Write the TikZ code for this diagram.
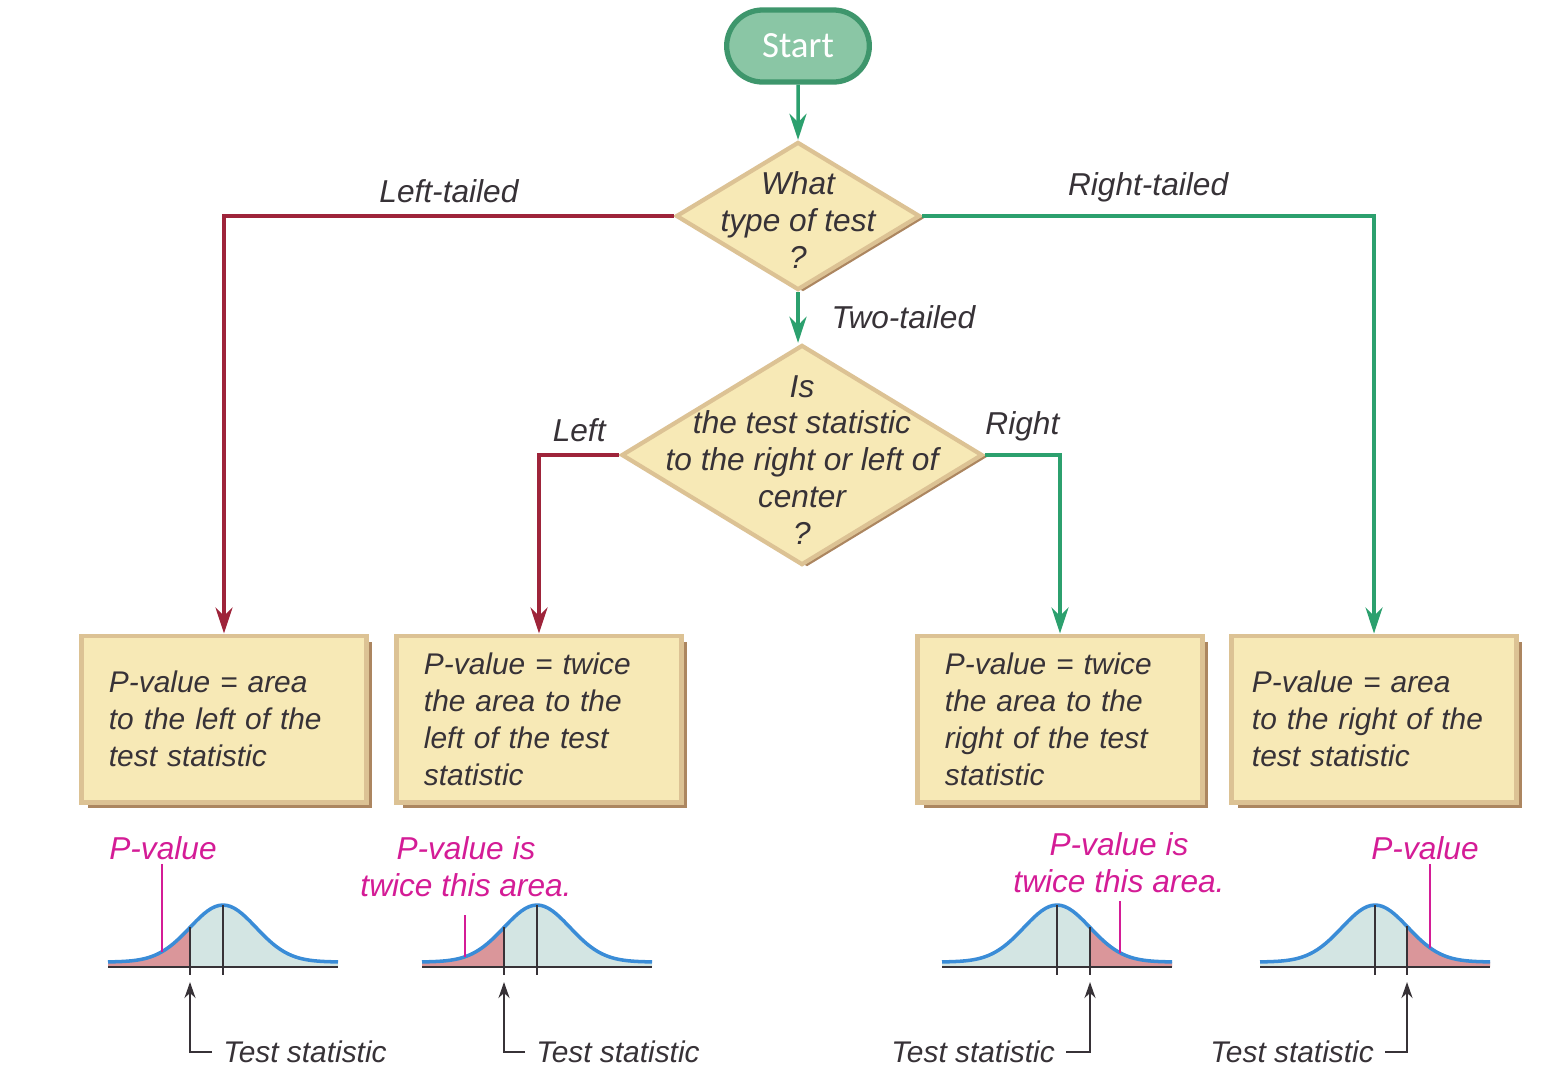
\documentclass[tikz,border=0pt]{standalone}
\usepackage{fontspec}
\setmainfont{Liberation Sans}
\newfontfamily\startfont{Carlito}
\usetikzlibrary{arrows.meta,positioning,shapes.geometric,shapes.misc,shadows}
\definecolor{flowgreen}{RGB}{44,160,110}
\definecolor{flowred}{RGB}{158,36,58}
\definecolor{panel}{RGB}{247,233,182}
\definecolor{paneledge}{RGB}{220,194,148}
\definecolor{panelshadow}{RGB}{172,134,96}
\definecolor{startfill}{RGB}{138,198,165}
\definecolor{startedge}{RGB}{62,150,108}
\definecolor{inkgray}{RGB}{55,50,55}
\definecolor{pvpink}{RGB}{212,28,150}
\definecolor{bellblue}{RGB}{58,140,215}
\definecolor{bellfill}{RGB}{211,229,227}
\definecolor{tailred}{RGB}{218,150,154}
\newcommand{\handfont}{\fontsize{9}{10.5}\selectfont\itshape}
% #1 centre, #2 test statistic, #3--#4 shaded tail (offsets from centre)
\newcommand{\bellcurve}[4]{%
  \fill[bellfill] plot[domain=-115:115,samples=61] ({#1+\x},{962-57*exp(-((\x)*(\x))/2178)})
    -- ({#1+115},967) -- ({#1-115},967) -- cycle;
  \fill[tailred] plot[domain=#3:#4,samples=31] ({#1+\x},{962-57*exp(-((\x)*(\x))/2178)})
    -- ({#1+(#4)},967) -- ({#1+(#3)},967) -- cycle;
  \draw[bellblue,line width=1pt] plot[domain=-115:115,samples=61] ({#1+\x},{962-57*exp(-((\x)*(\x))/2178)});
  \draw[inkgray,line width=0.8pt] ({#1-115},967) -- ({#1+115},967);
  \draw[inkgray,line width=0.8pt] (#1,905) -- (#1,975);
  \draw[inkgray,line width=0.8pt] ({#1+(#2)},{962-57*exp(-((#2)*(#2))/2178)}) -- ({#1+(#2)},975);
}

\begin{document}
\begin{tikzpicture}[x=0.01cm,y=-0.01cm,
  startbox/.style={rounded rectangle,fill=startfill,draw=startedge,line width=1.5pt,
    minimum width=1.66cm,minimum height=0.72cm,text=white,font=\startfont\fontsize{10.5}{12}\selectfont},
  decision/.style={diamond,fill=panel,draw=paneledge,line width=1.2pt,inner sep=0pt,
    drop shadow={shadow xshift=0.05cm,shadow yshift=-0.02cm,fill=panelshadow,opacity=1}},
  qtext/.style={align=center,font=\handfont,text=inkgray},
  result/.style={rectangle,fill=panel,draw=paneledge,line width=1.4pt,minimum width=2.84cm,
    minimum height=1.66cm,text width=2.3cm,inner xsep=0.27cm,align=left,
    font=\fontsize{8.5}{10.5}\selectfont\itshape,text=inkgray,
    drop shadow={shadow xshift=0.06cm,shadow yshift=-0.06cm,fill=panelshadow,opacity=1}},
  garr/.style={flowgreen,line width=1pt,-{Stealth[length=2.6mm,width=1.7mm]}},
  rarr/.style={flowred,line width=1pt,-{Stealth[length=2.6mm,width=1.7mm]}},
  lab/.style={font=\handfont,text=inkgray},
  pvlab/.style={font=\handfont,text=pvpink,align=center,inner sep=1pt},
  pvline/.style={pvpink,line width=0.8pt},
  tslab/.style={font=\fontsize{8.5}{10}\selectfont\itshape,text=inkgray,inner sep=3pt},
  tsarr/.style={inkgray,line width=0.7pt,-{Stealth[length=1.6mm,width=1.1mm]}}]
\useasboundingbox (0,0) rectangle (1552,1084);

% decisions
\node[startbox] (start) at (798,46) {Start};
\node[decision,minimum width=2.44cm,minimum height=1.48cm] (type) at (798,216) {};
\node[qtext] (typeq) at (798,220) {What\\type of test\\?};
\node[decision,minimum width=3.61cm,minimum height=2.2cm] (side) at (802,455) {};
\node[qtext] (sideq) at (802,460) {Is\\the test statistic\\to the right or left of\\center\\?};

% results
\node[result] (leftbox) at (224,719) {P-value = area\\to the left of the\\test statistic};
\node[result] (twoleft) at (539,719) {P-value = twice\\the area to the\\left of the test\\statistic};
\node[result] (tworight) at (1060,719) {P-value = twice\\the area to the\\right of the test\\statistic};
\node[result,text width=2.44cm,inner xsep=0.2cm] (rightbox) at (1374,719) {P-value = area\\to the right of the\\test statistic};

\draw[garr] (start) -- (type);
\draw[rarr] (type.west) -| node[lab,above,pos=0.25]{Left-tailed} (leftbox.north);
\draw[garr] (type.east) -| node[lab,above,pos=0.25]{Right-tailed} (rightbox.north);
\draw[garr] (type.south) -- node[lab,right=0.2cm]{Two-tailed} (type.south |- side.north);
\draw[rarr] (side.west) -| node[lab,above,pos=0.25]{Left} (twoleft.north);
\draw[garr] (side.east) -| node[lab,above,pos=0.25]{Right} (tworight.north);

% curves
\bellcurve{223}{-33}{-115}{-33}
\bellcurve{537}{-33}{-115}{-33}
\bellcurve{1057}{33}{33}{115}
\bellcurve{1375}{32}{32}{115}

\node[pvlab] (pv1) at (163,848) {P-value};
\node[pvlab] (pv2) at (466,867) {P-value is\\twice this area.};
\node[pvlab] (pv3) at (1119,863) {P-value is\\twice this area.};
\node[pvlab] (pv4) at (1425,848) {P-value};
\coordinate (pv1end) at (162,952);
\coordinate (pv2end) at (465,957);
\coordinate (pv3end) at (1120,953);
\coordinate (pv4end) at (1430,948);
\draw[pvline] (pv1.south -| pv1end) -- (pv1end);
\draw[pvline] ([yshift=-4pt]pv2.south -| pv2end) -- (pv2end);
\draw[pvline] ([yshift=-1pt]pv3.south -| pv3end) -- (pv3end);
\draw[pvline] (pv4.south -| pv4end) -- (pv4end);

\node[tslab,anchor=west] (ts1) at (212,1052) {Test statistic};
\node[tslab,anchor=west] (ts2) at (525,1052) {Test statistic};
\node[tslab,anchor=east] (ts3) at (1066,1052) {Test statistic};
\node[tslab,anchor=east] (ts4) at (1385,1052) {Test statistic};
\coordinate (ts1tip) at (190,982);
\coordinate (ts2tip) at (504,982);
\coordinate (ts3tip) at (1090,982);
\coordinate (ts4tip) at (1407,982);
\draw[tsarr] (ts1.west) -| (ts1tip);
\draw[tsarr] (ts2.west) -| (ts2tip);
\draw[tsarr] (ts3.east) -| (ts3tip);
\draw[tsarr] (ts4.east) -| (ts4tip);
\end{tikzpicture}
\end{document}
